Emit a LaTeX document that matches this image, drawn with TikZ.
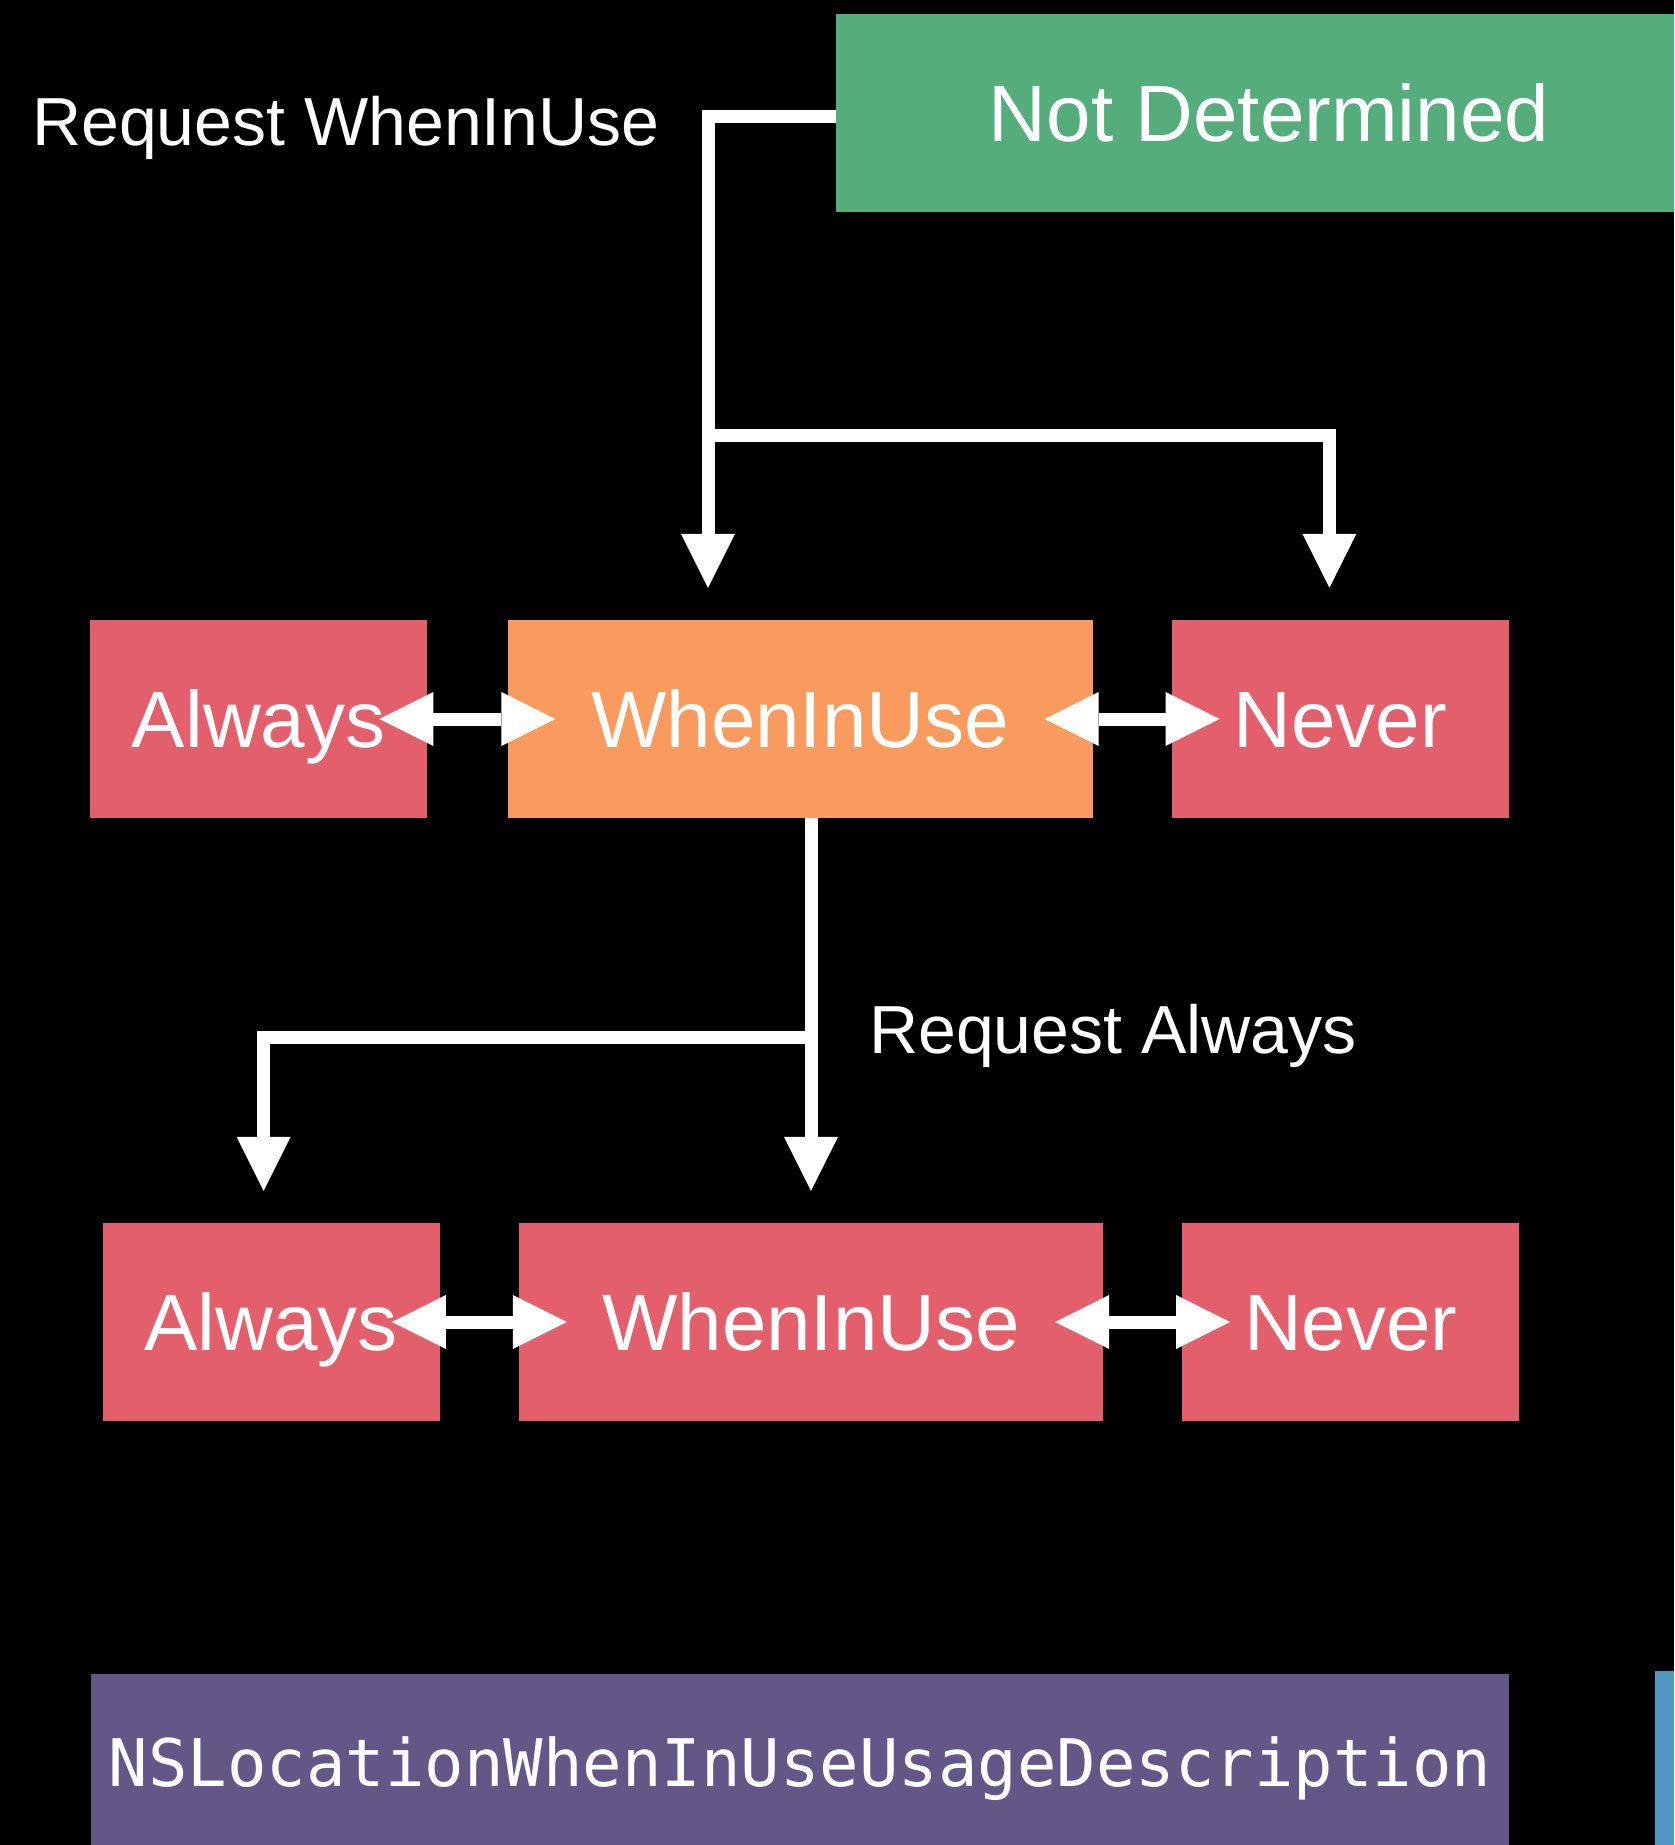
\documentclass[tikz,border=0pt]{standalone}
\usepackage{fontspec}
\setmainfont{Liberation Sans}
\setmonofont{DejaVu Sans Mono}
\usepackage{xcolor}
\usepackage{tikz}
\usetikzlibrary{arrows.meta,positioning}

\definecolor{ndgreen}{HTML}{55AD7C}
\definecolor{wiuorange}{HTML}{F99B5E}
\definecolor{authred}{HTML}{E35F6B}
\definecolor{keypurple}{HTML}{635788}
\definecolor{keyblue}{HTML}{5398C3}

\newcommand\statefont{\fontsize{80}{92}\selectfont}
\newcommand\requestfont{\fontsize{68}{80}\selectfont}
\newcommand\keyfont{\ttfamily\fontsize{65.6}{78}\selectfont}

\begin{document}
\begin{tikzpicture}[
    x=1pt, y=-1pt,
    state/.style={minimum width=337pt, minimum height=198pt, inner sep=0pt, text=white, font=\statefont, text height=57pt, text depth=0pt},
    request/.style={anchor=west, inner sep=0pt, text=white, font=\requestfont, text height=48.5pt, text depth=0pt},
    flow/.style={draw=white, line width=13pt, -{Triangle[length=54pt, width=54pt, line width=0pt]}},
    both/.style={draw=white, line width=13pt, {Triangle[length=54pt, width=54pt, line width=0pt]}-{Triangle[length=54pt, width=54pt, line width=0pt]}, shorten <=-48pt, shorten >=-48pt}
]
\useasboundingbox (0,0) rectangle (1674,1845);
\fill[black] (0,0) rectangle (1674,1845);
\clip (0,0) rectangle (1674,1845);

% Initial state, cut off at the right edge.
\node[state, fill=ndgreen, minimum width=866pt] (nd) at (1269,113) {Not Determined};

% States after the WhenInUse request.
\node[state, fill=wiuorange, minimum width=585pt] (wiu1) at (800,719) {WhenInUse};
\node[state, fill=authred, left=80pt of wiu1] (alw1) {Always};
\node[state, fill=authred, right=79pt of wiu1] (nev1) {Never};

% States after the Always request.
\node[state, fill=authred, minimum width=584pt] (wiu2) at (811,1322) {WhenInUse};
\node[state, fill=authred, left=79pt of wiu2] (alw2) {Always};
\node[state, fill=authred, right=79pt of wiu2] (nev2) {Never};

% Info.plist keys.
\node[state, fill=keypurple, minimum width=1418pt, minimum height=176pt, font=\keyfont, text height=48pt] (wiukey) at (800,1762) {NSLocationWhenInUseUsageDescription};
\node[fill=keyblue, anchor=north west, minimum width=400pt, minimum height=198pt, inner sep=0pt] (alwkey) at (1655,1671) {};

% Request labels.
\node[request] (reqwiu) at (32,121.5) {Request WhenInUse};
\node[request] (reqalw) at (869,1029) {Request Always};

% Branch points.
\coordinate (split1) at (708,435);
\coordinate (split2) at (811,1037);

% Request WhenInUse.
\draw[flow, shorten >=32pt] ([yshift=-3pt]nd.west) -| ([xshift=-92pt]wiu1.north);
\draw[flow, shorten >=32pt] (split1) -| ([xshift=-11pt]nev1.north);
\draw[both] (alw1.east) -- (wiu1.west);
\draw[both] (wiu1.east) -- (nev1.west);

% Request Always.
\draw[flow, shorten >=32pt] (wiu1.south -| wiu2.north) -- (wiu2.north);
\draw[flow, shorten >=32pt] (split2) -| ([xshift=-7.5pt]alw2.north);
\draw[both] (alw2.east) -- (wiu2.west);
\draw[both] (wiu2.east) -- (nev2.west);

\end{tikzpicture}
\end{document}
